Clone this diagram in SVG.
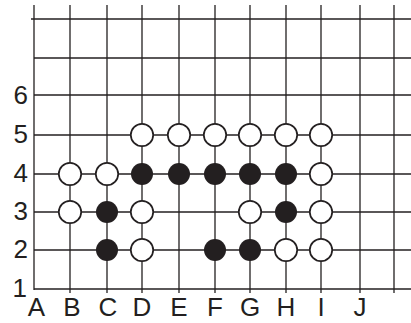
<svg xmlns="http://www.w3.org/2000/svg" width="411" height="323" viewBox="0 0 411 323">
<style>
.g{stroke:#231f20;stroke-width:1.3;fill:none}
.w{fill:#fff;stroke:#231f20;stroke-width:1.7}
.b{fill:#231f20}
.t{font-family:"Liberation Sans",Arial,sans-serif;font-size:26px;fill:#231f20}
.c{text-anchor:middle}
.r{text-anchor:end}
</style>
<rect width="411" height="323" fill="#fff"/>
<g id="grid" class="g">
<line x1="31" y1="19" x2="411" y2="19"/>
<line x1="34" y1="58" x2="411" y2="58"/>
<line x1="34" y1="95" x2="411" y2="95"/>
<line x1="34" y1="135" x2="411" y2="135"/>
<line x1="34" y1="174" x2="411" y2="174"/>
<line x1="34" y1="212" x2="411" y2="212"/>
<line x1="34" y1="250" x2="411" y2="250"/>
<line x1="34" y1="289" x2="411" y2="289"/>
<line x1="34" y1="5" x2="34" y2="290"/>
<line x1="70" y1="5" x2="70" y2="293"/>
<line x1="107" y1="5" x2="107" y2="293"/>
<line x1="142" y1="5" x2="142" y2="293"/>
<line x1="179" y1="5" x2="179" y2="293"/>
<line x1="215" y1="5" x2="215" y2="293"/>
<line x1="250" y1="5" x2="250" y2="293"/>
<line x1="286" y1="5" x2="286" y2="293"/>
<line x1="321" y1="5" x2="321" y2="293"/>
<line x1="360" y1="5" x2="360" y2="293"/>
<line x1="394" y1="5" x2="394" y2="293"/>
</g>
<g id="stones">
<circle class="w" cx="142" cy="135" r="11.2"/>
<circle class="w" cx="179" cy="135" r="11.2"/>
<circle class="w" cx="215" cy="135" r="11.2"/>
<circle class="w" cx="250" cy="135" r="11.2"/>
<circle class="w" cx="286" cy="135" r="11.2"/>
<circle class="w" cx="321" cy="135" r="11.2"/>
<circle class="w" cx="70" cy="174" r="11.2"/>
<circle class="w" cx="107" cy="174" r="11.2"/>
<circle class="b" cx="142" cy="174" r="11"/>
<circle class="b" cx="179" cy="174" r="11"/>
<circle class="b" cx="215" cy="174" r="11"/>
<circle class="b" cx="250" cy="174" r="11"/>
<circle class="b" cx="286" cy="174" r="11"/>
<circle class="w" cx="321" cy="174" r="11.2"/>
<circle class="w" cx="70" cy="212" r="11.2"/>
<circle class="b" cx="107" cy="212" r="11"/>
<circle class="w" cx="142" cy="212" r="11.2"/>
<circle class="w" cx="250" cy="212" r="11.2"/>
<circle class="b" cx="286" cy="212" r="11"/>
<circle class="w" cx="321" cy="212" r="11.2"/>
<circle class="b" cx="107" cy="250" r="11"/>
<circle class="w" cx="142" cy="250" r="11.2"/>
<circle class="b" cx="215" cy="250" r="11"/>
<circle class="b" cx="250" cy="250" r="11"/>
<circle class="w" cx="286" cy="250" r="11.2"/>
<circle class="w" cx="321" cy="250" r="11.2"/>
</g>
<g id="row-labels" class="t r">
<text x="28" y="103.5">6</text>
<text x="28" y="143">5</text>
<text x="28" y="182">4</text>
<text x="28" y="220">3</text>
<text x="28" y="258">2</text>
<text x="27" y="297">1</text>
</g>
<g id="col-labels" class="t c">
<text x="36.5" y="316">A</text>
<text x="72" y="316">B</text>
<text x="108" y="316">C</text>
<text x="142" y="316">D</text>
<text x="179" y="316">E</text>
<text x="215" y="316">F</text>
<text x="250" y="316">G</text>
<text x="286" y="316">H</text>
<text x="321" y="316">I</text>
<text x="360" y="316">J</text>
</g>
</svg>
